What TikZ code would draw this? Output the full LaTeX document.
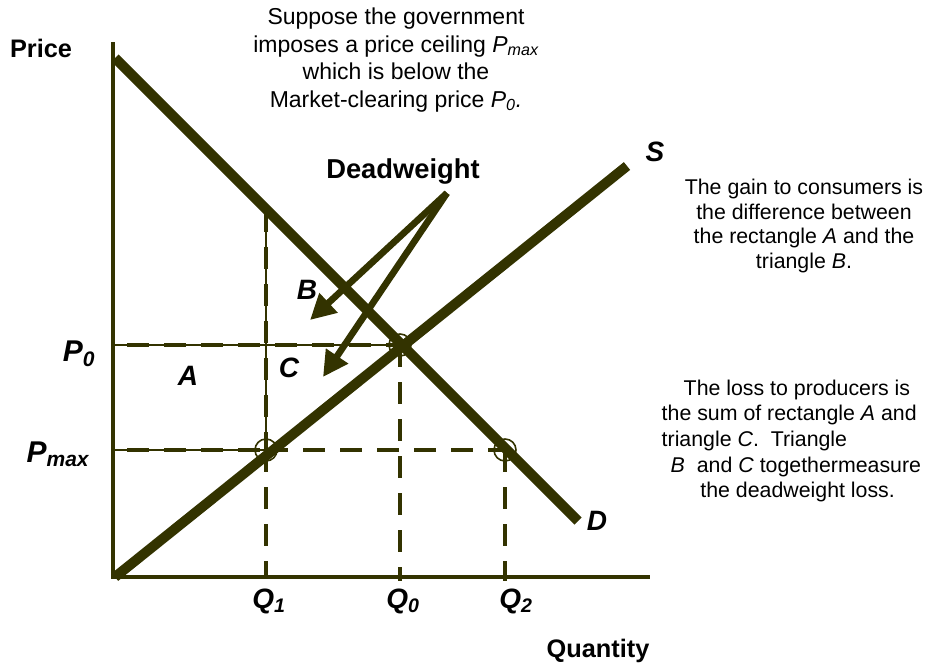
\documentclass[tikz,border=0pt]{standalone}
\usepackage{fontspec}
\setmainfont{Liberation Sans}
\usepackage{xcolor}
\usetikzlibrary{arrows.meta}
\definecolor{olivedark}{HTML}{333300}

\begin{document}
\begin{tikzpicture}[
		x=0.75pt, y=-0.75pt,
		curve/.style={
			line width=7.5pt,
			olivedark
		},
		axis/.style={
			line width=3.2pt,
			olivedark
		},
		guide/.style={
			line width=3.6pt,
			olivedark,
			dash pattern=on 16.5pt off 11.25pt
		},
		guidethin/.style={
			line width=1.5pt,
			olivedark
		},
		ring/.style={
			circle,
			draw=olivedark,
			line width=1.2pt,
			minimum size=16.5pt,
			inner sep=0pt
		},
		pointer/.style={
			-{Triangle[length=19pt, width=19pt]},
			line width=5pt,
			olivedark
		},
		lbl/.style={
			font=\fontsize{21pt}{24pt}\selectfont\bfseries\itshape
		},
		axlbl/.style={
			font=\fontsize{19pt}{22pt}\selectfont\bfseries
		},
		note/.style={
			font=\fontsize{17.25pt}{20.6pt}\selectfont,
			align=center
		},
		sidenote/.style={
			font=\fontsize{16pt}{18.6pt}\selectfont
		}
		]
		\useasboundingbox (0,0) rectangle (938,665);
		% Points
		\coordinate (orig) at (113,577);
		\coordinate (ytop) at (113,42);
		\coordinate (xend) at (650,577);
		\coordinate (dtop) at (115,58);
		\coordinate (dend) at (578,521);
		\coordinate (send) at (627,166);
		\coordinate (eq) at (400,345);
		\coordinate (qone) at (266,450);
		\coordinate (qtwo) at (505,450);
		\coordinate (qonetop) at (266,210);
		\coordinate (dw) at (447,193);
		\coordinate (tipB) at (310,320);
		\coordinate (tipC) at (323,377);
		% Axes
		\draw[axis] (ytop) -- (orig |- 0,579);
		\draw[axis] (111,577) -- (xend);
		% Guides
		\draw[guidethin] (orig |- eq) -- (eq);
		\draw[guidethin] (orig |- qone) -- (qone);
		\draw[guidethin] (qonetop) -- (qone);
		\draw[guide, dash phase=17.25pt] (orig |- eq) -- (eq);
		\draw[guide, dash phase=17.25pt] (orig |- qone) -- (qone);
		\draw[guide] (qonetop) -- (qone);
		\draw[guide] (qone) -- (qtwo);
		\draw[guide] (qone) -- (qone |- orig);
		\draw[guide] (eq) -- (eq |- 0,581);
		\draw[guide] (qtwo) -- (qtwo |- 0,581);
		% Curves
		\draw[curve] (dtop) -- (dend);
		\draw[curve] (orig) ++(2,0) -- (send);
		% Rings
		\node[ring] (rone) at (qone) {};
		\node[ring] (rzero) at (eq) {};
		\node[ring] (rtwo) at (qtwo) {};
		% Arrows
		\draw[pointer] (dw) -- (tipB);
		\draw[pointer] (dw) -- (tipC);
		% Labels
		\node[axlbl] (price) at (41,48) {Price};
		\node[axlbl] (qty) at (598,651) {Quantity};
		\node[axlbl, font=\fontsize{20.5pt}{24pt}\selectfont\bfseries] (dwt) at (403,171) {Deadweight};
		\node[lbl] (slbl) at (655,152) {S};
		\node[lbl] (dlbl) at (597,521) {D};
		\node[lbl] (albl) at (188,376) {A};
		\node[lbl] (blbl) at (307,290) {B};
		\node[lbl] (clbl) at (289,368) {C};
		\node[lbl, font=\fontsize{22.5pt}{26pt}\selectfont\bfseries\itshape, anchor=east] (pzero) at (100,354) {P\textsubscript{0}};
		\node[lbl, font=\fontsize{22.5pt}{26pt}\selectfont\bfseries\itshape, anchor=east] (pmax) at (94,454) {P\textsubscript{max}};
		\node[lbl] (qonelbl) at (269,601) {Q\textsubscript{1}};
		\node[lbl] (qzerolbl) at (403,601) {Q\textsubscript{0}};
		\node[lbl] (qtwolbl) at (516,601) {Q\textsubscript{2}};
		% Notes
		\node[note] (intro) at (396,60)
		{Suppose the government\\imposes a price ceiling \textit{P\textsubscript{max}}\\which is below the\\Market-clearing price \textit{P\textsubscript{0}.}};
		\node[sidenote, align=center] (gain) at (804,226)
		{The gain to consumers is\\the difference between\\the rectangle \textit{A} and the\\triangle \textit{B}.};
		\node[sidenote, align=left, anchor=west, font=\fontsize{16pt}{19.3pt}\selectfont] (loss) at (657,441)
		{\hspace*{16.5pt}The loss to producers is\\the sum of rectangle \textit{A} and\\triangle \textit{C}.\ \ Triangle\\\hspace*{6.75pt}\textit{B}\ \ and \textit{C} togethermeasure\\\hspace*{29pt}the deadweight loss.};
	\end{tikzpicture}
\end{document}
